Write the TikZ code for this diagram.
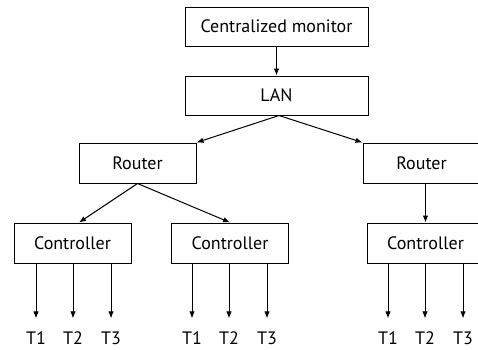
\documentclass[tikz,border=0pt]{standalone}
\usepackage{fontspec}
\setmainfont{PT Sans}
\usetikzlibrary{arrows.meta}
\begin{document}
\begin{tikzpicture}[x=1pt,y=-1pt,
  font=\fontsize{18}{21}\selectfont,
  box/.style={draw, line width=1pt, minimum height=40pt, inner sep=0pt},
  wide/.style={box, minimum width=183pt, minimum height=39pt},
  unit/.style={box, minimum width=117pt},
  arr/.style={line width=1pt, -{Latex[length=7pt,width=5.5pt]}},
  tlabel/.style={inner sep=0pt}]
\useasboundingbox (0,0) rectangle (478,349);
\clip (0,0) rectangle (478,349);

% upper levels
\node[wide] (mon) at (276.5,26.5) {Centralized monitor};
\node[wide] (lan) at (276.5,95.5) {LAN};
\node[unit] (rl) at (137.5,163) {Router};
\node[unit] (rr) at (421.5,163) {Router};

% controllers
\node[unit] (c1) at (72.5,243) {Controller};
\node[unit] (c2) at (230,243) {Controller};
\node[unit] (c3) at (425.5,243) {Controller};

% terminals
\foreach \c/\xa/\xb/\xc in {1/36/73/111, 2/192/229/267, 3/388/425/463} {
  \node[tlabel] (t\c a) at (\xa,338) {T1};
  \node[tlabel] (t\c b) at (\xb,338) {T2};
  \node[tlabel] (t\c c) at (\xc,338) {T3};
  \foreach \t in {a,b,c}
    \draw[arr] (c\c.south -| t\c\t) -- ([yshift=13pt]t\c\t.north);
}

% links
\draw[arr] (mon) -- (lan);
\coordinate (lanout) at ([xshift=2.5pt]lan.south);
\draw[arr] (lanout) -- (rl.north east);
\draw[arr] (lanout) -- (rr.north west);
\draw[arr] (rl.south) -- ([xshift=6.5pt]c1.north);
\draw[arr] (rl.south) -- (c2.north);
\draw[arr] (c3.north |- rr.south) -- (c3.north);
\end{tikzpicture}
\end{document}
